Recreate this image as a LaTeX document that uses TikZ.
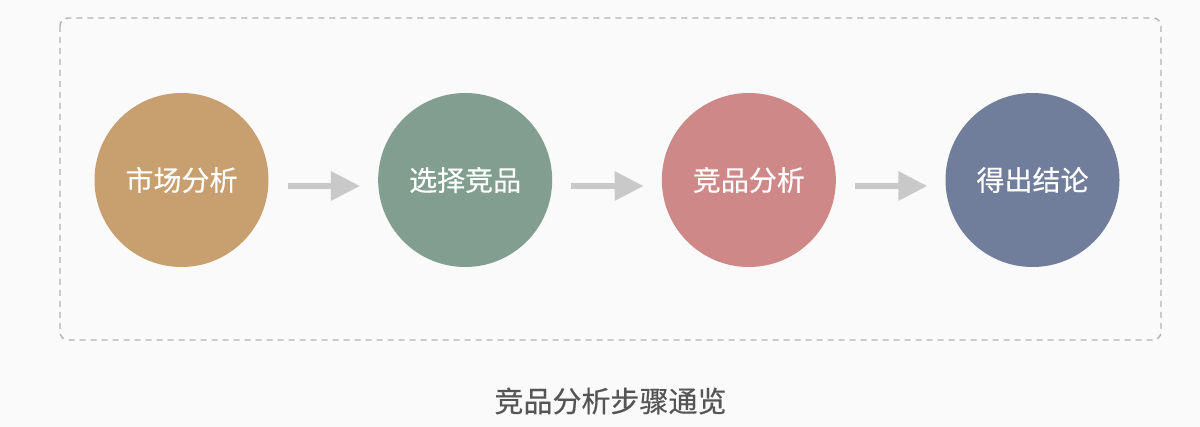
\documentclass[tikz,border=0pt]{standalone}
\usepackage{fontspec}
\setmainfont{Noto Sans CJK SC}
\newfontfamily\cjkmid[FakeBold=0.35]{Noto Sans CJK SC}
\usetikzlibrary{arrows.meta, positioning}

\definecolor{bgpaper}{HTML}{FAFAFA}
\definecolor{boxline}{HTML}{B2B2B2}
\definecolor{flowgray}{HTML}{C9C9C9}
\definecolor{capgray}{HTML}{555555}
\definecolor{tan}{HTML}{C89F6E}
\definecolor{sage}{HTML}{819E90}
\definecolor{rose}{HTML}{CE8888}
\definecolor{slate}{HTML}{717E9B}

\begin{document}
\begin{tikzpicture}[
                x = 1pt, y = 1pt,
                node distance = 283.67pt, % centre to centre
                stage/.style = {
                    circle,
                    minimum size = 174pt,
                    inner sep = 0pt,
                    text = white,
                    font = \cjkmid\fontsize{28pt}{30pt}\selectfont
                },
                flow/.style = {
                    -{Triangle[length=29pt, width=28pt]},
                    line width = 6pt,
                    flowgray,
                    shorten < = 19pt,
                    shorten > = 18pt
                }
            ]

            % page and frame
            \fill[bgpaper] (0,0) rectangle (1200,-427);
            \useasboundingbox (0,0) rectangle (1200,-427);
            \draw[boxline, line width = 1.4pt, dash pattern = on 6pt off 5pt,
                rounded corners = 8pt] (60,-18) rectangle (1161,-340);

            \node[stage, fill = tan] (market) at (181.5,-180) {市场分析};
            \node[stage, fill = sage] (pick) [right of=market] {选择竞品};
            \node[stage, fill = rose] (study) [right of=pick] {竞品分析};
            \node[stage, fill = slate] (result) [right of=study] {得出结论};

            \draw[flow] ([yshift=-6pt]market.east) -- ([yshift=-6pt]pick.west);
            \draw[flow] ([yshift=-6pt]pick.east) -- ([yshift=-6pt]study.west);
            \draw[flow] ([yshift=-6pt]study.east) -- ([yshift=-6pt]result.west);

            \node[text = capgray, font = \cjkmid\fontsize{29pt}{31pt}\selectfont]
                (caption) at (610.5,-401) {竞品分析步骤通览};
        \end{tikzpicture}
\end{document}
